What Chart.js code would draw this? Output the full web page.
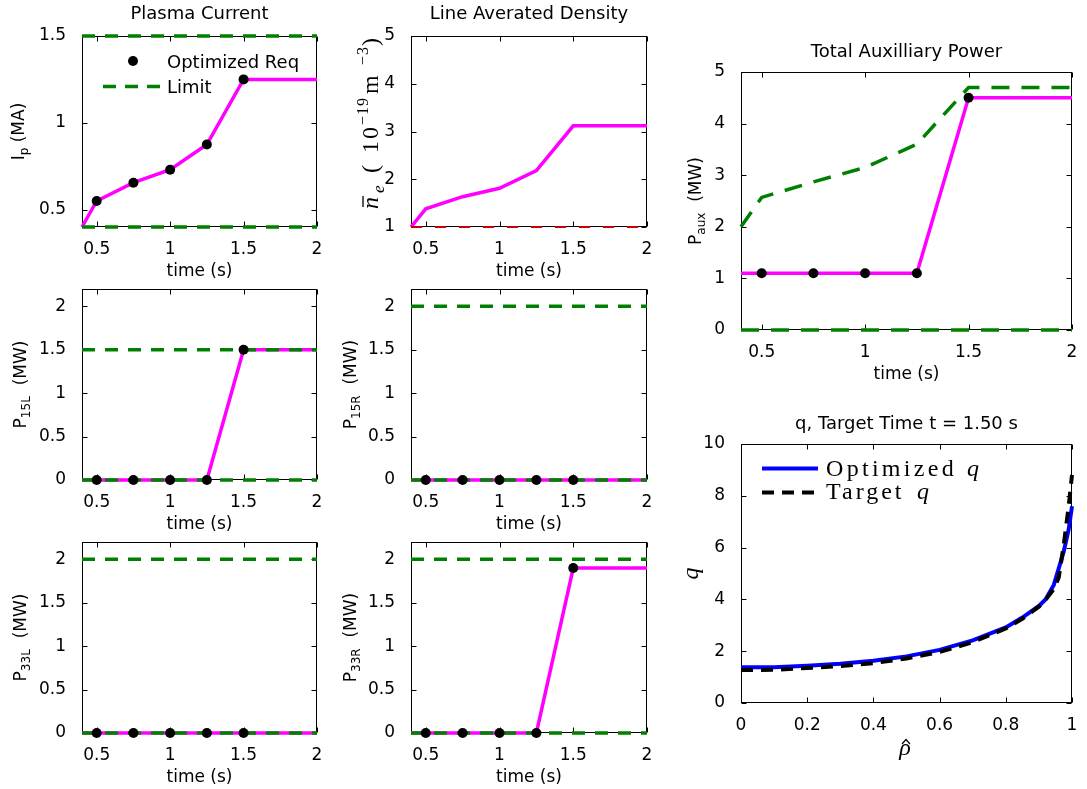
<!DOCTYPE html>
<html><head><meta charset="utf-8">
<script src="https://cdn.jsdelivr.net/npm/chart.js@4/dist/chart.umd.min.js"></script>
<style>
html,body{margin:0;padding:0;background:#fff;}
body{width:1087px;height:789px;position:relative;overflow:hidden;}
canvas{position:absolute;}
</style></head><body>
<script>
// ---------------- data ----------------
const tTraj = [0.4, 0.5, 0.75, 1.0, 1.25, 1.5, 2.0];
const tReq = [0.5, 0.75, 1.0, 1.25, 1.5];
const timeTicks = [0.5, 1, 1.5, 2];

const ipTraj = [0.40, 0.55, 0.655, 0.73, 0.875, 1.25, 1.25];
const ipReq = [0.55, 0.655, 0.73, 0.875, 1.25];
const ipLimits = [1.5, 0.4];
const ipTicks = [0.5, 1, 1.5];

const neTraj = [1.0, 1.38, 1.635, 1.81, 2.18, 3.12, 3.12];
const neLimits = [1.0];
const neTicks = [1, 2, 3, 4, 5];

const p15lTraj = [0, 0, 0, 0, 0, 1.5, 1.5];
const p15lReq = [0, 0, 0, 0, 1.5];
const p15lLimits = [1.5, 0];

const p15rTraj = [0, 0, 0, 0, 0, 0, 0];
const p15rReq = [0, 0, 0, 0, 0];
const p15rLimits = [2, 0];

const p33lTraj = [0, 0, 0, 0, 0, 0, 0];
const p33lReq = [0, 0, 0, 0, 0];
const p33lLimits = [2, 0];

const p33rTraj = [0, 0, 0, 0, 0, 1.9, 1.9];
const p33rReq = [0, 0, 0, 0, 1.9];
const p33rLimits = [2, 0];
const beamTicks = [0, 0.5, 1, 1.5, 2];

const pauxTraj = [1.1, 1.1, 1.1, 1.1, 1.1, 4.5, 4.5];
const pauxReq = [1.1, 1.1, 1.1, 1.1, 4.5];
const pauxMax = [2.0, 2.57, 2.87, 3.15, 3.6, 4.7, 4.7];
const pauxMin = [0];
const pauxTicks = [0, 1, 2, 3, 4, 5];

const rho = [0, 0.1, 0.2, 0.3, 0.4, 0.5, 0.6, 0.7, 0.8, 0.85, 0.9, 0.92, 0.945, 0.96, 0.975, 0.99, 1.0];
const qOptimized = [1.38, 1.38, 1.44, 1.52, 1.63, 1.8, 2.05, 2.42, 2.92, 3.3, 3.75, 4.0, 4.56, 5.2, 5.85, 6.7, 7.6];
const qTarget = [1.27, 1.28, 1.35, 1.43, 1.54, 1.72, 1.97, 2.35, 2.88, 3.25, 3.72, 3.98, 4.4, 4.85, 6.1, 7.6, 8.8];
const rhoTicks = [0, 0.2, 0.4, 0.6, 0.8, 1];
const qTicks = [0, 2, 4, 6, 8, 10];

// ---------------- helpers ----------------
const SANS = "'DejaVu Sans', sans-serif";
const SERIF = "'Liberation Serif', 'DejaVu Serif', serif";
const MAG = '#ff00ff', GRN = '#008000';
const sans = s => s + 'px ' + SANS;

const pts = (xs, ys) => xs.map((x, i) => ({x: x, y: ys[i]}));
const hline = (v, x0, x1) => [{x: x0, y: v}, {x: x1, y: v}];

function drawRich(ctx, parts, x, y, rot, align) {
  ctx.save();
  ctx.translate(x, y);
  if (rot) ctx.rotate(-Math.PI / 2);
  ctx.fillStyle = '#000'; ctx.textBaseline = 'alphabetic'; ctx.textAlign = 'left';
  let w = 0;
  for (const p of parts) { ctx.font = p.font; ctx.letterSpacing = p.ls || '0px'; w += ctx.measureText(p.t).width; }
  let cx = align === 'left' ? 0 : (align === 'right' ? -w : -w / 2);
  for (const p of parts) {
    ctx.font = p.font; ctx.letterSpacing = p.ls || '0px';
    ctx.fillText(p.t, cx, p.dy || 0);
    cx += ctx.measureText(p.t).width;
  }
  ctx.restore();
}

function trajSets(traj, req, limits, xMax) {
  const sets = [];
  sets.push({data: pts(tReq, req), showLine: false, pointRadius: 5, pointBackgroundColor: '#000', pointBorderWidth: 0, order: 0, clip: false});
  limits.forEach(v => sets.push({data: hline(v, 0.4, xMax), borderColor: GRN, borderWidth: 3.5,
    borderDash: [13, 10], pointRadius: 0, order: 1, clip: false}));
  sets.push({data: pts(tTraj, traj), borderColor: MAG, borderWidth: 3.5, pointRadius: 0, order: 2, clip: false});
  return sets;
}

function makePanel(p) {
  const mL = 95, mT = 45, mR = 30, mB = 75;
  const W = p.R - p.L + mL + mR, H = p.B - p.T + mT + mB;
  const cv = document.createElement('canvas');
  cv.width = W; cv.height = H;
  cv.style.left = (p.L - mL) + 'px'; cv.style.top = (p.T - mT) + 'px';
  cv.style.width = W + 'px'; cv.style.height = H + 'px';
  document.body.appendChild(cv);
  const ox = p.L - mL, oy = p.T - mT;
  const decor = {
    id: 'decor',
    beforeDatasetsDraw(chart) {
      const ctx = chart.ctx, a = chart.chartArea;
      const xs = chart.scales.x, ys = chart.scales.y;
      ctx.save();
      ctx.strokeStyle = '#000'; ctx.lineWidth = 1;
      const l = Math.round(a.left) + 0.5, t = Math.round(a.top) + 0.5;
      const r = Math.round(a.right) - 0.5, b = Math.round(a.bottom) - 0.5;
      ctx.strokeRect(l, t, r - l, b - t);
      ctx.beginPath();
      p.xTicks.forEach(v => {
        const px = Math.round(xs.getPixelForValue(v)) + 0.5;
        ctx.moveTo(px, b); ctx.lineTo(px, b - 5);
        ctx.moveTo(px, t); ctx.lineTo(px, t + 5);
      });
      p.yTicks.forEach(v => {
        const py = Math.round(ys.getPixelForValue(v)) + 0.5;
        ctx.moveTo(l, py); ctx.lineTo(l + 5, py);
        ctx.moveTo(r, py); ctx.lineTo(r - 5, py);
      });
      ctx.stroke();
      ctx.restore();
    },
    afterDraw(chart) {
      const ctx = chart.ctx;
      ctx.save();
      ctx.translate(-ox, -oy);
      const cx = (p.L + p.R) / 2, cy = (p.T + p.B) / 2;
      if (p.title) drawRich(ctx, [{t: p.title, font: sans(18)}], cx, p.titleY, false, 'center');
      if (p.xlabel) drawRich(ctx, [{t: p.xlabel, font: sans(17)}], cx, p.B + 49, false, 'center');
      if (p.ylabel) drawRich(ctx, p.ylabel, p.ylabelX, cy, true, 'center');
      if (p.extra) p.extra(ctx, chart);
      ctx.restore();
    }
  };
  new Chart(cv, {
    type: 'line',
    data: {datasets: p.datasets},
    options: {
      responsive: false, animation: false, devicePixelRatio: 1, events: [],
      layout: {padding: {left: 0, top: mT, right: mR, bottom: 0}},
      elements: {line: {tension: 0}},
      plugins: {legend: {display: false}, tooltip: {enabled: false}, title: {display: false}},
      scales: {
        x: {type: 'linear', min: p.xMin, max: p.xMax, grid: {display: false}, border: {display: false},
          ticks: {font: {family: SANS, size: 17}, color: '#000', padding: 4, maxRotation: 0, autoSkip: false, callback: v => String(v)},
          afterBuildTicks: s => { s.ticks = p.xTicks.map(v => ({value: v})); },
          afterFit: s => { s.height = mB; }},
        y: {type: 'linear', min: p.yMin, max: p.yMax, grid: {display: false}, border: {display: false},
          ticks: {font: {family: SANS, size: 17}, color: '#000', padding: 8, autoSkip: false, callback: v => String(v)},
          afterBuildTicks: s => { s.ticks = p.yTicks.map(v => ({value: v})); },
          afterFit: s => { s.width = mL; }}
      }
    },
    plugins: [decor]
  });
}

const subLabel = (main, sub, rest) => [
  {t: main, font: sans(17)}, {t: sub, font: sans(12), dy: 4}, {t: rest, font: sans(17)}
];

// ---------------- panels ----------------
// Plasma current
makePanel({L: 82, T: 36, R: 317, B: 227, xMin: 0.4, xMax: 2, yMin: 0.4, yMax: 1.5, xTicks: timeTicks, yTicks: ipTicks,
  title: 'Plasma Current', titleY: 19, xlabel: 'time (s)', ylabel: subLabel('I', 'p', ' (MA)'), ylabelX: 24,
  datasets: trajSets(ipTraj, ipReq, ipLimits, 2),
  extra(ctx) {
    ctx.fillStyle = '#000';
    ctx.beginPath(); ctx.arc(133, 61, 5, 0, Math.PI * 2); ctx.fill();
    ctx.strokeStyle = GRN; ctx.lineWidth = 3.5; ctx.setLineDash([13, 9]);
    ctx.beginPath(); ctx.moveTo(103, 86.5); ctx.lineTo(160, 86.5); ctx.stroke();
    ctx.setLineDash([]);
    drawRich(ctx, [{t: 'Optimized Req', font: sans(18)}], 167, 68, false, 'left');
    drawRich(ctx, [{t: 'Limit', font: sans(18)}], 167, 93, false, 'left');
  }
});

// Line averaged density
makePanel({L: 411, T: 36, R: 647, B: 227, xMin: 0.4, xMax: 2, yMin: 1, yMax: 5, xTicks: timeTicks, yTicks: neTicks,
  title: 'Line Averated Density', titleY: 19, xlabel: 'time (s)',
  datasets: [
    ...neLimits.map(v => ({data: hline(v, 0.4, 2), borderColor: '#c80000', borderWidth: 2, borderDash: [11, 13], pointRadius: 0, order: 1, clip: false})),
    {data: pts(tTraj, neTraj), borderColor: MAG, borderWidth: 3.5, pointRadius: 0, order: 2, clip: false}
  ],
  extra(ctx) {
    const it = s => 'italic ' + s + 'px ' + SERIF, rm = s => s + 'px ' + SERIF;
    ctx.save();
    ctx.translate(378, 0); ctx.rotate(-Math.PI / 2);
    ctx.fillStyle = '#000'; ctx.textBaseline = 'alphabetic'; ctx.textAlign = 'left';
    const piece = (t, font, s, dy, ls) => { ctx.font = font; ctx.letterSpacing = ls || '0px'; ctx.fillText(t, -s, dy || 0); };
    piece('n', it(24), 209);
    ctx.strokeStyle = '#000'; ctx.lineWidth = 1.3;
    ctx.beginPath(); ctx.moveTo(-207, -15); ctx.lineTo(-196, -15); ctx.stroke();
    piece('e', it(17), 193, 6);
    piece('(', rm(24), 173);
    piece('10', rm(24), 153, 0, '2px');
    piece('\u221219', rm(16), 125, -10, '1px');
    piece('m', rm(24), 94);
    piece('\u22123', rm(16), 65, -10, '1px');
    piece(')', rm(24), 46);
    ctx.restore();
  }
});

// P15L
makePanel({L: 82, T: 289, R: 317, B: 480, xMin: 0.4, xMax: 2, yMin: 0, yMax: 2.2, xTicks: timeTicks, yTicks: beamTicks,
  xlabel: 'time (s)', ylabel: subLabel('P', '15L', '  (MW)'), ylabelX: 26,
  datasets: trajSets(p15lTraj, p15lReq, p15lLimits, 2)});

// P15R
makePanel({L: 411, T: 289, R: 647, B: 480, xMin: 0.4, xMax: 2, yMin: 0, yMax: 2.2, xTicks: timeTicks, yTicks: beamTicks,
  xlabel: 'time (s)', ylabel: subLabel('P', '15R', '  (MW)'), ylabelX: 356,
  datasets: trajSets(p15rTraj, p15rReq, p15rLimits, 2)});

// P33L
makePanel({L: 82, T: 542, R: 317, B: 733, xMin: 0.4, xMax: 2, yMin: 0, yMax: 2.2, xTicks: timeTicks, yTicks: beamTicks,
  xlabel: 'time (s)', ylabel: subLabel('P', '33L', '  (MW)'), ylabelX: 26,
  datasets: trajSets(p33lTraj, p33lReq, p33lLimits, 2)});

// P33R
makePanel({L: 411, T: 542, R: 647, B: 733, xMin: 0.4, xMax: 2, yMin: 0, yMax: 2.2, xTicks: timeTicks, yTicks: beamTicks,
  xlabel: 'time (s)', ylabel: subLabel('P', '33R', '  (MW)'), ylabelX: 356,
  datasets: trajSets(p33rTraj, p33rReq, p33rLimits, 2)});

// Total auxiliary power
makePanel({L: 741, T: 72, R: 1072, B: 330, xMin: 0.4, xMax: 2, yMin: 0, yMax: 5, xTicks: timeTicks, yTicks: pauxTicks,
  title: 'Total Auxilliary Power', titleY: 57, xlabel: 'time (s)', ylabel: subLabel('P', 'aux', '  (MW)'), ylabelX: 701,
  datasets: [
    {data: pts(tReq, pauxReq), showLine: false, pointRadius: 5, pointBackgroundColor: '#000', pointBorderWidth: 0, order: 0, clip: false},
    {data: pts(tTraj, pauxMax), borderColor: GRN, borderWidth: 3.5, borderDash: [18, 12], pointRadius: 0, order: 1, clip: false},
    ...pauxMin.map(v => ({data: hline(v, 0.4, 2), borderColor: GRN, borderWidth: 3.5, borderDash: [18, 12], pointRadius: 0, order: 1, clip: false})),
    {data: pts(tTraj, pauxTraj), borderColor: MAG, borderWidth: 3.5, pointRadius: 0, order: 2, clip: false}
  ]});

// q profile
makePanel({L: 741, T: 444, R: 1072, B: 703, xMin: 0, xMax: 1, yMin: 0, yMax: 10, xTicks: rhoTicks, yTicks: qTicks,
  title: 'q, Target Time t = 1.50 s', titleY: 429,
  ylabel: [{t: 'q', font: 'italic 24px ' + SERIF}], ylabelX: 698,
  datasets: [
    {data: pts(rho, qTarget), borderColor: '#000', borderWidth: 4, borderDash: [12, 8], pointRadius: 0, order: 0, clip: false},
    {data: pts(rho, qOptimized), borderColor: '#0000ff', borderWidth: 4, pointRadius: 0, order: 1, clip: false}
  ],
  extra(ctx) {
    ctx.lineWidth = 4;
    ctx.strokeStyle = '#0000ff';
    ctx.beginPath(); ctx.moveTo(762, 468.5); ctx.lineTo(818, 468.5); ctx.stroke();
    ctx.strokeStyle = '#000'; ctx.setLineDash([12, 8]);
    ctx.beginPath(); ctx.moveTo(762, 492.5); ctx.lineTo(818, 492.5); ctx.stroke();
    ctx.setLineDash([]);
    drawRich(ctx, [{t: 'Optimized', font: '24px ' + SERIF, ls: '3.3px'}], 826, 476, false, 'left');
    drawRich(ctx, [{t: 'q', font: 'italic 24px ' + SERIF}], 967, 476, false, 'left');
    drawRich(ctx, [{t: 'Target', font: '24px ' + SERIF, ls: '3px'}], 826, 499, false, 'left');
    drawRich(ctx, [{t: 'q', font: 'italic 24px ' + SERIF}], 917, 499, false, 'left');
    // x label: rho hat
    drawRich(ctx, [{t: '\u03c1', font: 'italic 24px ' + SERIF}], 905, 755, false, 'center');
    ctx.strokeStyle = '#000'; ctx.lineWidth = 1.2;
    ctx.beginPath(); ctx.moveTo(902, 744); ctx.lineTo(906, 739.5); ctx.lineTo(910, 744); ctx.stroke();
  }
});
</script>
</body></html>
